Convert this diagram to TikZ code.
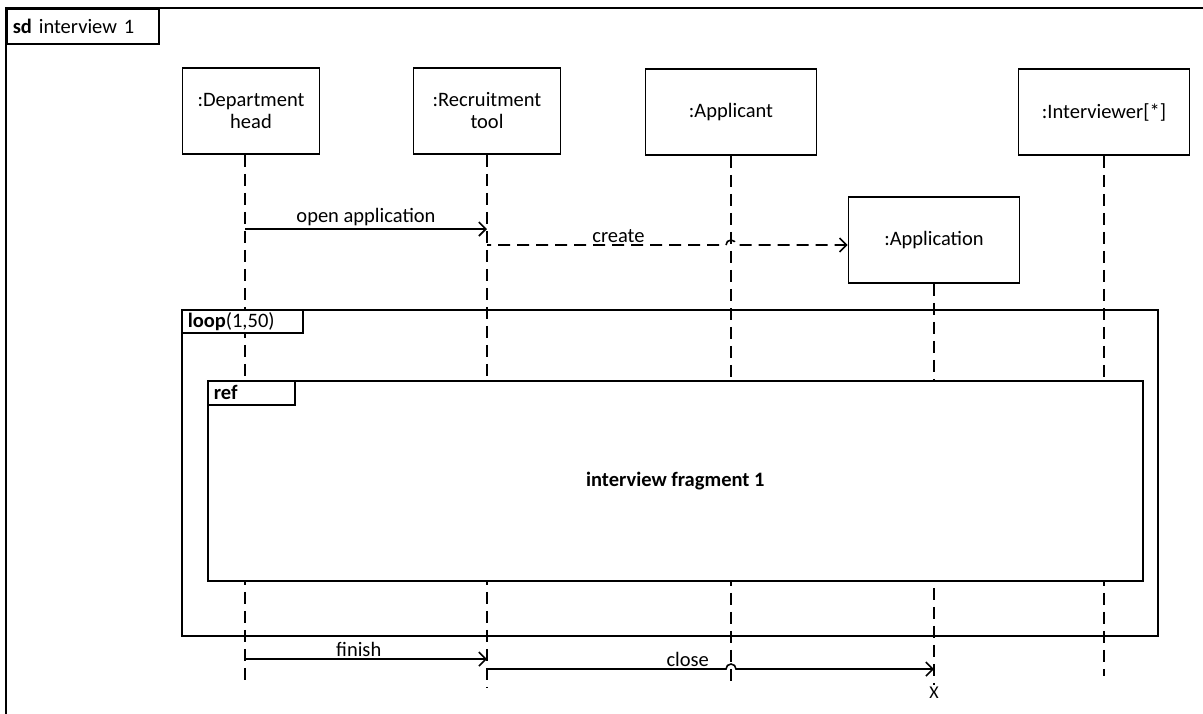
\documentclass[tikz,border=0pt]{standalone}
\usepackage{fontspec}
\setmainfont{Carlito}
\usetikzlibrary{arrows.meta, positioning}

\tikzset{
    head/.style={draw, fill=white, align=center, minimum height=86pt, inner sep=2pt},
    life/.style={dash pattern=on 12pt off 7pt},
    msg/.style={-{Straight Barb[length=7pt,width=14pt]}},
    frag/.style={draw, anchor=north west, inner sep=0pt},
    tab/.style={draw, fill=white, anchor=north west, inner xsep=6pt, inner ysep=0pt, align=left},
}

\begin{document}
\begin{tikzpicture}[x=1pt, y=-1pt, line width=1.6pt, font=\fontsize{20.5}{22}\selectfont]
    \useasboundingbox (0,0) rectangle (1203,713);
    % Outer frame, it runs off the page on the right and at the bottom:
    \draw (6,8) rectangle (1220,730);
    \node[tab, minimum height=35pt, text width=140pt] (sd) at (6,8) {\textbf{sd} interview 1};

    % Lifeline heads:
    \node[head, minimum width=137pt] (dh) at (251,111) {:Department\\head};
    \node[head, minimum width=147pt] (rt) at (487,111) {:Recruitment\\tool};
    \node[head, minimum width=171pt] (ap) at (731,112) {:Applicant};
    \node[head, minimum width=171pt] (iv) at (1104,112) {:Interviewer[*]};
    \node[head, minimum width=171pt] (an) at (934,240) {:Application};

    % Lifelines (dashed), the one of the department head is a bit off centre:
    \coordinate (dhL) at ([xshift=-6pt]dh.south);
    \draw[life] (dhL) -- ++(0,531);
    \foreach \o/\len in {rt/533, ap/525, iv/520}{
        \draw[life] (\o.south) -- ++(0,\len);
    }
    \node[inner sep=1pt, font=\fontsize{18}{18}\selectfont] (xEnd) at (934,693) {X};
    \draw[life] (an.south) -- (xEnd.north);

    % Combined fragments:
    \node[frag, minimum width=976pt, minimum height=326pt] (loop) at (181,309) {};
    \node[tab, minimum height=23pt, text width=109pt] (loopTab) at (loop.north west) {\textbf{loop}(1,50)};
    \node[frag, fill=white, minimum width=935pt, minimum height=200pt] (ref) at (207,380) {\textbf{interview fragment 1}};
    \node[tab, minimum height=24pt, text width=75pt] (refTab) at (ref.north west) {\textbf{ref}};

    % Messages:
    \coordinate (mOpen) at (0,229);
    \coordinate (mCreate) at (0,245);
    \coordinate (mFinish) at (0,659);
    \coordinate (mClose) at (0,669);
    \begin{scope}[every node/.style={above, inner sep=2pt}]
        \draw[msg] (dhL |- mOpen) -- node {open application} (rt |- mOpen);
        % the phase puts the hop over the applicant on a dash
        \draw[msg, life, dash phase=8pt] (rt |- mCreate) -- node[pos=0.55] {create} ([xshift=-5pt]ap |- mCreate)
            arc (180:360:5) -- (an.west |- mCreate);
        \draw[msg] (dhL |- mFinish) -- node[pos=0.47] {finish} (rt |- mFinish);
        \draw[msg] (rt |- mClose) -- node[pos=0.84] {close} ([xshift=-5pt]ap |- mClose)
            arc (180:360:5) -- (an |- mClose);
    \end{scope}
\end{tikzpicture}
\end{document}
